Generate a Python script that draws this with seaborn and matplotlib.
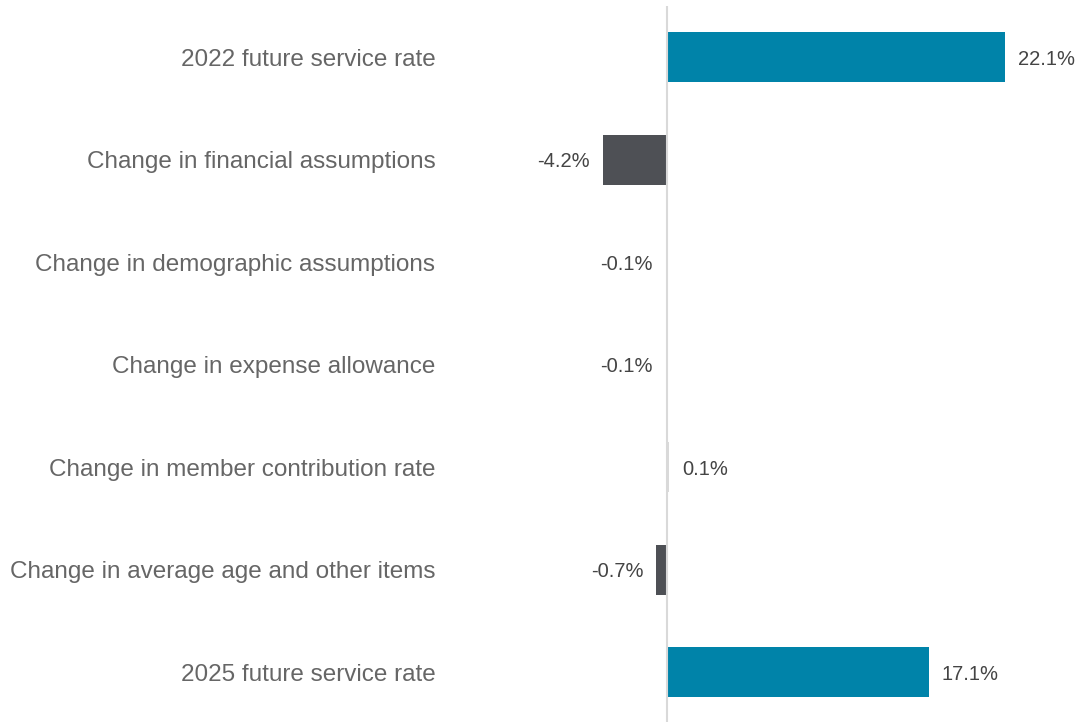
import matplotlib
matplotlib.use("Agg")
import matplotlib.pyplot as plt
import seaborn as sns
import pandas as pd

# Contribution-rate reconciliation, in percent of pay
categories = [
    "2022 future service rate",
    "Change in financial assumptions",
    "Change in demographic assumptions",
    "Change in expense allowance",
    "Change in member contribution rate",
    "Change in average age and other items",
    "2025 future service rate",
]
values = [22.1, -4.2, -0.1, -0.1, 0.1, -0.7, 17.1]

TEAL = "#0083a9"
DARK = "#4e5055"
LIGHT = "#d9d9d9"
bar_colors = [TEAL, DARK, "#ffffff", "#ffffff", LIGHT, DARK, TEAL]

df = pd.DataFrame({"category": categories, "value": values})

sns.set_theme(style="white")
plt.rcParams["font.family"] = ["Liberation Sans", "DejaVu Sans"]

fig = plt.figure(figsize=(10.81, 7.22), dpi=100)
ax = fig.add_axes([445.2 / 1081, -1.5 / 722, 589.0 / 1081, 717.5 / 722])

sns.barplot(
    data=df, x="value", y="category", hue="category",
    palette=dict(zip(categories, bar_colors)), order=categories,
    hue_order=categories, width=0.49, legend=False, dodge=False,
    saturation=1, linewidth=0, ax=ax,
)

ax.set_xlim(-14.5, 24)
ax.axvline(0, color=LIGHT, lw=1.5, zorder=4)

# value labels just beyond the end of each bar
for i, v in enumerate(values):
    ax.annotate(
        f"{v:.1f}%", xy=(v, i), xytext=(9.5 if v >= 0 else -9.5, -1.5),
        textcoords="offset points", ha="left" if v >= 0 else "right",
        va="center", fontsize=14.5, color="#444444", annotation_clip=False,
    )

ax.set_xlabel("")
ax.set_ylabel("")
ax.set_xticks([])
ax.tick_params(axis="y", length=0, pad=7, labelsize=17.5, labelcolor="#666666")
for lab in ax.get_yticklabels():
    lab.set_y(lab.get_position()[1])
for s in ax.spines.values():
    s.set_visible(False)

fig.savefig("out.png", dpi=100)
